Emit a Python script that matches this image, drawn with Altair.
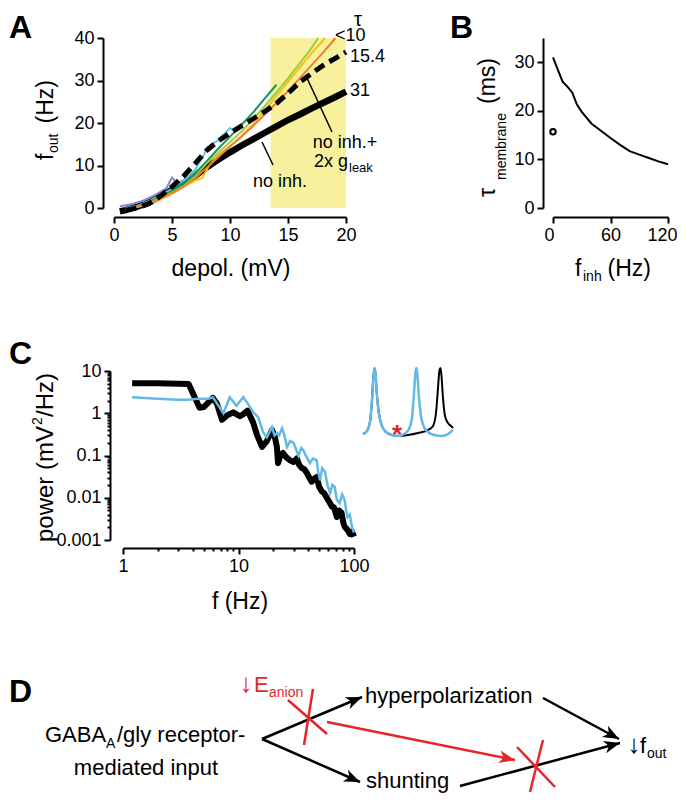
import math
import altair as alt
import pandas as pd

W, H, M = 669, 785, 8
FONT = "Liberation Sans, Arial, sans-serif"
BOLD = "Liberation Sans, Arial, sans-serif"

# ---------------- Panel A : f_out vs depolarisation ----------------
A_thick_x = [0.5, 1, 2, 3, 4, 5, 6, 7, 8, 9, 10, 11, 12, 13, 14, 15, 16, 17, 18, 19, 20]
A_thick_y = [-0.8, -0.5, 0.3, 1.3, 2.8, 4.3, 5.9, 7.6, 9.6, 11.4, 13.1, 14.7, 16.2, 17.7, 19.2, 20.7, 22.0, 23.4, 24.7, 26.0, 27.4]
A_dash_x = [1, 2, 3, 4, 5, 6, 7, 8, 9, 10, 11, 12, 13, 14, 15, 16, 17, 18, 19, 20]
A_dash_y = [-0.5, 0.0, 1.0, 2.8, 5.0, 7.5, 10.5, 13.6, 15.8, 17.6, 19.3, 21.0, 22.7, 24.6, 27.0, 29.6, 31.6, 33.5, 35.1, 36.7]

A_purple_x = [0.5, 1.5, 2.5, 3.5, 4.5, 5.0, 5.5, 6.3, 7.0]
A_purple_y = [0.4, 0.9, 1.7, 3.0, 4.6, 7.2, 5.6, 7.0, 8.3]
A_blue_x = [1, 2, 3, 4, 5, 6, 7, 7.6, 8.1, 9, 10, 10.4]
A_blue_y = [0.0, 0.5, 1.6, 3.0, 4.5, 6.5, 9.0, 11.8, 14.4, 16.0, 18.8, 18.0]
A_dgreen_x = [1, 2, 3, 4, 5, 6, 7, 8, 9, 10, 11, 12, 13, 14]
A_dgreen_y = [-0.3, 0.4, 1.4, 2.6, 4.0, 5.8, 8.2, 11.0, 14.0, 16.8, 19.6, 22.5, 25.8, 29.0]
A_ygreen_x = [1, 2, 3, 4, 5, 6, 7, 8, 9, 10, 11, 12, 13, 14, 15, 16, 17, 17.6]
A_ygreen_y = [-0.3, 0.3, 1.2, 2.3, 3.6, 5.2, 7.5, 10.5, 13.0, 15.5, 18.0, 20.8, 24.0, 27.2, 30.5, 34.0, 37.5, 40.0]
A_gold_x = [1, 2, 3, 4, 5, 6, 7, 7.6, 8.2, 9, 10, 11, 12, 13, 14, 15, 16, 17, 18.2]
A_gold_y = [-0.3, 0.2, 1.0, 2.0, 3.3, 5.0, 6.5, 7.0, 10.0, 12.5, 14.5, 17.0, 19.8, 23.0, 26.3, 29.7, 33.0, 36.3, 40.0]
A_orange_x = [1, 2, 3, 4, 5, 6, 7, 8, 9, 10, 11, 12, 13, 14, 15, 16, 17, 18, 19.1]
A_orange_y = [-0.3, 0.2, 1.1, 2.2, 3.5, 5.0, 7.0, 9.5, 12.0, 14.5, 16.8, 19.3, 22.0, 24.7, 27.5, 30.5, 33.5, 36.5, 40.0]
A_series = ["purple", "blue", "dgreen", "ygreen", "gold", "orange"]
A_colors = ["#8c87c9", "#5ec4ef", "#13975a", "#9fcb3b", "#f6c21a", "#f07f2a"]
A_box = {"x": [13.5], "x2": [20], "y": [0], "y2": [40]}

# ---------------- Panel B : tau membrane vs f_inh ----------------
B_f = [0, 5, 10, 15, 20, 25, 30, 40, 50, 60, 70, 80, 90, 100, 110, 120]
B_tau = [31.0, 28.5, 26.0, 25.0, 23.8, 21.3, 19.8, 17.4, 15.9, 14.4, 13.0, 11.7, 11.0, 10.3, 9.6, 9.0]
B_pt_f = [0]
B_pt_tau = [15.7]

# ---------------- Panel C : power spectra ----------------
C_black_f = [1.2, 2.0, 3.0, 3.7, 4.6, 5.0, 6.0, 6.5, 7.2, 8.0, 9.0, 10.3, 11.0, 12.0, 13.4, 14.5, 16.0,
             17.6, 19.5, 20.5, 21.5, 22.0, 23.0, 24.3, 26.0, 27.8, 30.0, 32.0, 33.5, 35.5, 37.0, 39.0,
             41.0, 43.0, 45.0, 47.6, 50.0, 52.7, 55.0, 58.5, 61.0, 64.5, 67.0, 71.0, 74.0, 78.0, 81.0,
             83.5, 87.0, 92.0, 96.0, 100.0]
C_black_p = [5.1, 5.1, 5.0, 4.9, 1.35, 1.4, 2.3, 1.7, 0.7, 0.9, 1.05, 0.85, 0.95, 1.15, 0.6, 0.3, 0.16,
             0.22, 0.4, 0.3, 0.16, 0.066, 0.1, 0.115, 0.09, 0.078, 0.07, 0.085, 0.06, 0.05, 0.048, 0.039,
             0.03, 0.024, 0.028, 0.031, 0.018, 0.014, 0.013, 0.0097, 0.008, 0.0061, 0.006, 0.0035, 0.005,
             0.0044, 0.0025, 0.002, 0.0018, 0.0014, 0.0016, 0.0012]
C_blue_f = [1.2, 2.0, 3.0, 3.6, 4.5, 5.5, 6.0, 7.4, 8.4, 9.6, 11.0, 12.2, 13.4, 14.8, 16.3, 17.6, 19.5,
            20.5, 21.5, 22.5, 23.8, 25.0, 26.3, 28.0, 30.0, 31.5, 33.0, 35.0, 36.4, 39.0, 41.5, 44.0,
            47.5, 49.0, 50.8, 53.0, 56.0, 59.0, 62.0, 65.0, 68.0, 71.0, 75.0, 79.0, 83.0, 85.5, 88.0,
            92.0, 96.0, 100.0]
C_blue_p = [2.4, 2.2, 2.1, 2.1, 2.2, 2.2, 2.4, 1.0, 2.4, 1.5, 2.4, 1.6, 1.07, 0.81, 0.36, 0.27, 0.47,
            0.3, 0.34, 0.3, 0.44, 0.3, 0.16, 0.22, 0.2, 0.14, 0.1, 0.15, 0.133, 0.09, 0.066, 0.085,
            0.078, 0.04, 0.026, 0.05, 0.041, 0.02, 0.013, 0.02, 0.018, 0.009, 0.0075, 0.012, 0.0088,
            0.005, 0.0035, 0.004, 0.002, 0.0015]
C_x_ticks = [1, 10, 100]
C_y_ticks = [0.001, 0.01, 0.1, 1, 10]
C_x_minor = [2, 3, 4, 5, 6, 7, 8, 9, 20, 30, 40, 50, 60, 70, 80, 90]
C_y_minor = [0.002, 0.003, 0.004, 0.005, 0.006, 0.007, 0.008, 0.009,
             0.02, 0.03, 0.04, 0.05, 0.06, 0.07, 0.08, 0.09,
             0.2, 0.3, 0.4, 0.5, 0.6, 0.7, 0.8, 0.9,
             2, 3, 4, 5, 6, 7, 8, 9]

# inset voltage traces (arbitrary time / voltage units)
I_blue_t = [0, 4, 7, 9, 10.5, 11.5, 12.5, 14, 16, 19, 23, 29, 35, 41, 46, 49, 51, 52.5, 53.5, 54.5,
            56, 58, 61, 65, 71, 79, 85, 90]
I_blue_v = [4, 7, 16, 38, 62, 70, 64, 42, 24, 12, 6, 3, 2, 4, 9, 20, 45, 66, 70, 62, 40, 22, 11, 6,
            3, 2, 4, 8]
I_black_t = [0, 4, 7, 9, 10.5, 11.5, 12.5, 14, 16, 19, 23, 29, 35, 45, 55, 65, 70, 73, 75, 76.5, 77.5,
             78.5, 80, 82, 85, 88, 90]
I_black_v = [4, 7, 16, 38, 62, 70, 64, 42, 24, 12, 6, 3, 2, 3, 5, 8, 12, 25, 50, 68, 70, 62, 40, 22,
             15, 12, 10]

# ---------------- helpers ----------------
def sc(domain, r0, r1, typ="linear"):
    return alt.Scale(type=typ, domain=domain, range=[r0 - M, r1 - M], nice=False, zero=False)


def ax(orient, pos, values, **kw):
    off = (pos - M) - H if orient == "bottom" else -(pos - M)
    d = dict(orient=orient, offset=off, values=values, title=None, grid=False,
             domainColor="black", domainWidth=2, tickColor="black", tickWidth=2, tickSize=6,
             labelColor="black", labelFont=FONT, labelFontSize=18, labelPadding=3,
             labelFlush=False, labelOverlap=False, labelBound=False)
    d.update(kw)
    return alt.Axis(**d)


PXS = alt.Scale(domain=[0, 685], range=[-M, 685 - M], nice=False, zero=False)
PYS = alt.Scale(domain=[0, 801], range=[-M, 801 - M], nice=False, zero=False)


def texts(rows, **mk):
    df = pd.DataFrame(rows, columns=["t", "x", "y"])
    base = dict(font=FONT, fontSize=18, color="black", align="left", baseline="alphabetic")
    base.update(mk)
    return alt.Chart(df).mark_text(**base).encode(
        x=alt.X("x:Q", scale=PXS, axis=None), y=alt.Y("y:Q", scale=PYS, axis=None), text="t:N")


def segs(rows, color="black", width=2.5):
    df = pd.DataFrame(rows, columns=["x", "y", "x2", "y2"])
    return alt.Chart(df).mark_rule(color=color, strokeWidth=width).encode(
        x=alt.X("x:Q", scale=PXS, axis=None), y=alt.Y("y:Q", scale=PYS, axis=None),
        x2="x2:Q", y2="y2:Q")


ARROW = "M0,0L-1,-0.4L-0.72,0L-1,0.4Z"


def heads(rows, color="black"):
    recs = []
    for x1, y1, x2, y2 in rows:
        ang = math.degrees(math.atan2(y2 - y1, x2 - x1)) % 360
        recs.append({"x": x2, "y": y2, "a": ang})
    df = pd.DataFrame(recs)
    return alt.Chart(df).mark_point(shape=ARROW, filled=True, color=color, opacity=1,
                                    size=1024, strokeWidth=0).encode(
        x=alt.X("x:Q", scale=PXS, axis=None), y=alt.Y("y:Q", scale=PYS, axis=None),
        angle=alt.Angle("a:Q", scale=None))


# ---------------- Panel A chart ----------------
xA = sc([0, 20], 114, 346)
yA = sc([0, 40], 208, 38)
XA = alt.X("x:Q", scale=xA, axis=ax("bottom", 217, [0, 5, 10, 15, 20]))
YA = alt.Y("y:Q", scale=yA, axis=ax("left", 103, [0, 10, 20, 30, 40]))

box = alt.Chart(pd.DataFrame(A_box)).mark_rect(color="#f7f09c").encode(x=XA, x2="x2:Q", y=YA, y2="y2:Q")
thick = alt.Chart(pd.DataFrame({"x": A_thick_x, "y": A_thick_y, "i": range(len(A_thick_x))})).mark_line(
    color="black", strokeWidth=6.5).encode(x=XA, y=YA, order="i:Q")
recs = []
for name, xs, ys in zip(A_series, [A_purple_x, A_blue_x, A_dgreen_x, A_ygreen_x, A_gold_x, A_orange_x],
                        [A_purple_y, A_blue_y, A_dgreen_y, A_ygreen_y, A_gold_y, A_orange_y]):
    for i, (xv, yv) in enumerate(zip(xs, ys)):
        recs.append({"s": name, "x": xv, "y": yv, "i": i})
colored = alt.Chart(pd.DataFrame(recs)).mark_line(strokeWidth=2).encode(
    x=XA, y=YA, order="i:Q",
    color=alt.Color("s:N", scale=alt.Scale(domain=A_series, range=A_colors), legend=None))
dashed = alt.Chart(pd.DataFrame({"x": A_dash_x, "y": A_dash_y, "i": range(len(A_dash_x))})).mark_line(
    color="black", strokeWidth=5, strokeDash=[11, 6]).encode(x=XA, y=YA, order="i:Q")
panelA = alt.layer(box, thick, colored, dashed)

# ---------------- Panel B chart ----------------
XB = alt.X("f:Q", scale=sc([0, 120], 553, 668),
           axis=ax("bottom", 217, [0, 60, 120], labelFlush=True, labelFlushOffset=9))
YB = alt.Y("tau:Q", scale=sc([0, 35], 208, 38), axis=ax("left", 543, [0, 10, 20, 30]))
curveB = alt.Chart(pd.DataFrame({"f": B_f, "tau": B_tau})).mark_line(color="black", strokeWidth=2).encode(x=XB, y=YB)
ptB = alt.Chart(pd.DataFrame({"f": B_pt_f, "tau": B_pt_tau})).mark_point(
    color="black", filled=False, size=30, strokeWidth=2, opacity=1).encode(x=XB, y=YB)
panelB = alt.layer(curveB, ptB)

# ---------------- Panel C chart ----------------
xC = sc([1, 100], 123, 354, "log")
yC = sc([0.001, 10], 540, 371, "log")
XC = alt.X("f:Q", scale=xC, axis=ax("bottom", 548, C_x_ticks, format="~g"))
YC = alt.Y("p:Q", scale=yC, axis=ax("left", 110, C_y_ticks, format="~g"))
blackC = alt.Chart(pd.DataFrame({"f": C_black_f, "p": C_black_p})).mark_line(
    color="black", strokeWidth=6, strokeJoin="round").encode(x=XC, y=YC)
blueC = alt.Chart(pd.DataFrame({"f": C_blue_f, "p": C_blue_p})).mark_line(
    color="#62b9e6", strokeWidth=2.5).encode(x=XC, y=YC)
panelC = alt.layer(blackC, blueC)
minorC = alt.Chart(pd.DataFrame({"f": C_blue_f, "p": C_blue_p})).mark_point(opacity=0).encode(
    x=alt.X("f:Q", scale=xC, axis=ax("bottom", 548, C_x_minor, labels=False, domain=False, tickSize=3)),
    y=alt.Y("p:Q", scale=yC, axis=ax("left", 110, C_y_minor, labels=False, domain=False, tickSize=3)))

XI = alt.X("t:Q", scale=sc([0, 90], 363, 453), axis=None)
YI = alt.Y("v:Q", scale=sc([0, 72], 438, 366), axis=None)
ins_black = alt.Chart(pd.DataFrame({"t": I_black_t, "v": I_black_v})).mark_line(
    color="black", strokeWidth=2, interpolate="monotone").encode(x=XI, y=YI)
ins_blue = alt.Chart(pd.DataFrame({"t": I_blue_t, "v": I_blue_v})).mark_line(
    color="#62b9e6", strokeWidth=2.5, interpolate="monotone").encode(x=XI, y=YI)
inset = alt.layer(ins_black, ins_blue)

# ---------------- annotations (page coordinates) ----------------
RED = "#e8242b"
letters = texts([("A", 9, 38), ("B", 450, 38), ("C", 9, 364), ("D", 9, 702)],
                font=BOLD, fontWeight="bold", fontSize=32)
a_labels = texts([("<10", 335, 41), ("15.4", 350, 62), ("31", 350, 96)])
a_center = texts([("no inh.+", 345, 148), ("no inh.", 280, 187)], align="center")
a_tau = texts([("τ", 358, 26)], align="center", fontSize=20)
a_g = texts([("2x g", 348, 167)], align="right")
a_sub = texts([("leak", 349, 172)], fontSize=13)
leaders = segs([(307, 78, 332, 132), (262, 142, 273, 165)], width=1.5)

titles_c = texts([("depol. (mV)", 231, 276), ("f (Hz)", 240, 609)], align="center", fontSize=23)
titles_l = texts([("f", 575, 276)], fontSize=23)
titles_r = texts([("(Hz)", 651, 276)], align="right", fontSize=23)
titles_sub = texts([("inh", 583, 281)], fontSize=14)
rot_l = texts([("f", 53, 160), ("τ", 495, 197)], angle=270, fontSize=23)
rot_p = texts([("power (mV", 53, 542)], angle=270, fontSize=24)
rot_r = texts([("(Hz)", 53, 80), ("(ms)", 495, 58)], angle=270, fontSize=23, align="right")
rot_pr = texts([("/Hz)", 53, 373)], angle=270, fontSize=24, align="right")
rot_sub = texts([("out", 58, 153), ("membrane", 506, 180), ("2", 42, 425)], angle=270, fontSize=14)
star = texts([("*", 397, 443)], align="center", fontSize=26, fontWeight="bold", color=RED)

# ---------------- Panel D diagram ----------------
d_black_l = texts([("GABA", 45, 742), ("/gly receptor-", 117, 742), ("hyperpolarization", 365, 703),
                   ("shunting", 366, 788), ("f", 640, 753)], fontSize=22)
d_black_c = texts([("mediated input", 146, 775)], fontSize=22, align="center")
d_arrow_b = texts([("↓", 634, 753)], fontSize=26, align="center")
d_black_sub = texts([("A", 106, 748), ("out", 647, 758)], fontSize=14)
d_red = texts([("E", 254, 692)], fontSize=22, color=RED)
d_red_c = texts([("↓", 246, 692)], fontSize=26, color=RED, align="center")
d_red_sub = texts([("anion", 269, 697)], fontSize=14, color=RED)

black_arrows = [(262, 739, 362, 697), (262, 739, 360, 782), (543, 698, 619, 739), (460, 786, 620, 743)]
red_arrows = [(327, 722, 515, 760)]
red_x = [(288, 700, 327, 734), (313, 689, 304, 745), (517, 747, 555, 787), (543, 740, 530, 792)]
diagram = alt.layer(
    segs(black_arrows), heads(black_arrows),
    segs(red_arrows, color=RED), heads(red_arrows, color=RED),
    segs(red_x, color=RED),
    d_black_l, d_black_c, d_arrow_b, d_black_sub, d_red, d_red_c, d_red_sub)

annot = alt.layer(letters, a_labels, a_center, a_tau, a_g, a_sub, leaders, titles_c, titles_l,
                  titles_r, titles_sub, rot_l, rot_p, rot_r, rot_pr, rot_sub, star, diagram)

chart = alt.layer(panelA, panelB, panelC, minorC, inset, annot).resolve_scale(
    x="independent", y="independent", color="independent"
).resolve_axis(x="independent", y="independent").properties(
    width=W, height=H, autosize=alt.AutoSizeParams(type="none"), padding=0
).configure_view(stroke=None)

chart.save("out.html", embed_options={"renderer": "svg", "actions": False})
